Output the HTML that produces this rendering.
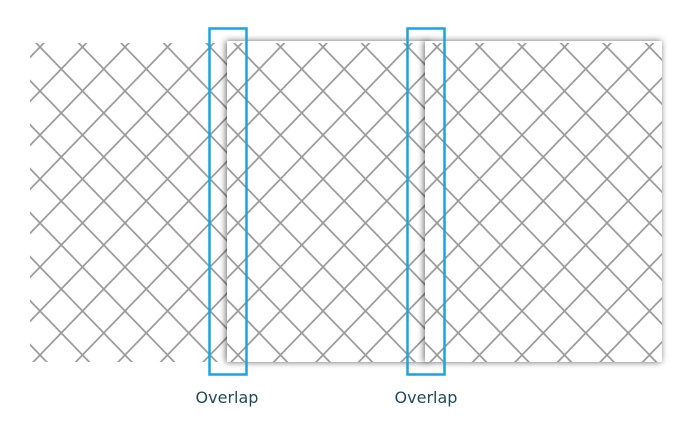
<!DOCTYPE html>
<html><head><style>
html,body{margin:0;padding:0;background:#fff;}
body{width:700px;height:438px;overflow:hidden;position:relative;font-family:"DejaVu Sans","Liberation Sans",sans-serif;}
.lbl{position:absolute;top:388px;font-size:16px;color:#1f4b5c;width:100px;text-align:center;}
</style></head><body>
<svg width="700" height="438" style="position:absolute;left:0;top:0">
<defs>
<pattern id="pA" patternUnits="userSpaceOnUse" width="42.5" height="44" x="18.75" y="47">
<path d="M21.25,0 L42.5,22 L21.25,44 L0,22 Z" fill="none" stroke="#999" stroke-width="1.7"/>
</pattern>
<pattern id="pB" patternUnits="userSpaceOnUse" width="42.5" height="44" x="216.75" y="47">
<path d="M21.25,0 L42.5,22 L21.25,44 L0,22 Z" fill="none" stroke="#999" stroke-width="1.7"/>
</pattern>
<pattern id="pC" patternUnits="userSpaceOnUse" width="42.5" height="44" x="415.75" y="47">
<path d="M21.25,0 L42.5,22 L21.25,44 L0,22 Z" fill="none" stroke="#999" stroke-width="1.7"/>
</pattern>
<filter id="sh" x="-10%" y="-10%" width="120%" height="120%">
<feDropShadow dx="-1" dy="0" stdDeviation="3.5" flood-color="#000" flood-opacity="0.6"/>
</filter>
</defs>
<rect x="30" y="43" width="200" height="319" fill="url(#pA)"/>
<g filter="url(#sh)"><rect x="227" y="41" width="203" height="321" fill="#fff"/></g>
<rect x="227" y="43" width="203" height="319" fill="url(#pB)"/>
<g filter="url(#sh)"><rect x="425" y="41" width="237" height="321" fill="#fff"/></g>
<rect x="425" y="43" width="237" height="319" fill="url(#pC)"/>
<rect x="209.5" y="28.5" width="37" height="346" fill="none" stroke="#1ba3e0" stroke-width="2.5"/>
<rect x="407.5" y="28.5" width="37" height="346" fill="none" stroke="#1ba3e0" stroke-width="2.5"/>
</svg>
<div class="lbl" style="left:177px">Overlap</div>
<div class="lbl" style="left:376px">Overlap</div>
</body></html>
